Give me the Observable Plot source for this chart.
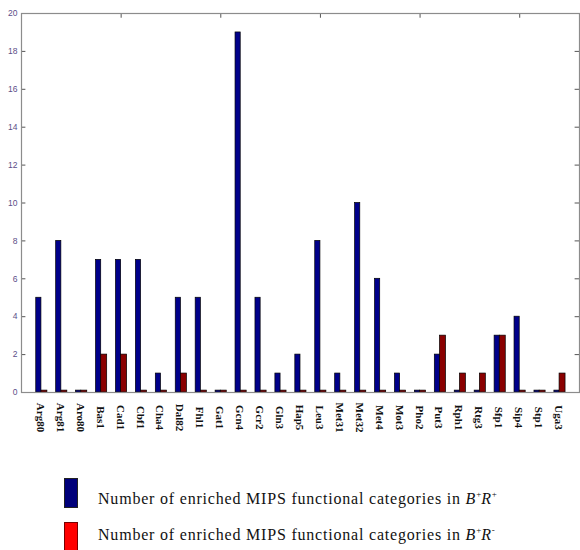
<!DOCTYPE html>
<html><head><meta charset="utf-8">
<script src="https://cdn.jsdelivr.net/npm/d3@7"></script>
<script src="https://cdn.jsdelivr.net/npm/@observablehq/plot@0.6"></script>
<style>
body{margin:0;background:#fff;width:580px;height:550px;overflow:hidden;position:relative;}
#chart{position:absolute;left:0;top:0;}
.leg{position:absolute;left:0;width:580px;height:30px;}
.sw{position:absolute;left:64px;width:12px;height:28px;border:1px solid #222;box-sizing:content-box;}
.lt{position:absolute;left:98px;font-family:"Liberation Serif","Times New Roman",serif;font-size:16px;letter-spacing:0.8px;color:#111;white-space:nowrap;line-height:16px;}
.lt sup{font-size:9px;vertical-align:7px;line-height:0;letter-spacing:0;}
</style>
</head><body>
<div id="chart"></div>
<div class="leg" style="top:478px"><div class="sw" style="top:0;background:#00007a"></div><div class="lt" style="top:13px">Number of enriched MIPS functional categories in <i>B</i><sup>+</sup><i>R</i><sup>+</sup></div></div>
<div class="leg" style="top:522px"><div class="sw" style="top:0;background:#ff0000;border-color:#700"></div><div class="lt" style="top:5px">Number of enriched MIPS functional categories in <i>B</i><sup>+</sup><i>R</i><sup>-</sup></div></div>
<script>
const categories = ["Arg80","Arg81","Aro80","Bas1","Cad1","Cbf1","Cha4","Dal82","Fhl1","Gat1","Gcn4","Gcr2","Gln3","Hap5","Leu3","Met31","Met32","Met4","Mot3","Pho2","Put3","Rph1","Rtg3","Sfp1","Sip4","Stp1","Uga3"];
const seriesPlusPlus = [5,8,0.1,7,7,7,1,5,5,0.1,19,5,1,2,8,1,10,6,1,0.1,2,0.1,0.1,3,4,0.1,0.1];
const seriesPlusMinus = [0.1,0.1,0.1,2,2,0.1,0.1,1,0.1,0.1,0.1,0.1,0.1,0.1,0.1,0.1,0.1,0.1,0.1,0.1,3,1,1,3,0.1,0.1,1];
const yTicks = [0,2,4,6,8,10,12,14,16,18,20];
const topTicks = [5,10,15,20,25];

const rows = categories.map((c,i)=>({cat:c, idx:i+1, a:seriesPlusPlus[i], b:seriesPlusMinus[i]}));

const plot = Plot.plot({
  width:580, height:450,
  marginLeft:21, marginRight:1, marginTop:13, marginBottom:58,
  x:{domain:[0,28], axis:null},
  y:{domain:[0,20], axis:null},
  marks:[
    Plot.rectY(rows,{x1:d=>d.idx-0.26, x2:d=>d.idx, y1:()=>0, y2:"a", fill:"#00008a", stroke:"#000", strokeWidth:0.7}),
    Plot.rectY(rows,{x1:d=>d.idx, x2:d=>d.idx+0.3, y1:()=>0, y2:"b", fill:"#8a0000", stroke:"#000", strokeWidth:0.7}),
    Plot.ruleY(yTicks,{y:d=>d, x1:()=>0, x2:()=>0.22, stroke:"#555", strokeWidth:1}),
    Plot.ruleY(yTicks,{y:d=>d, x1:()=>27.78, x2:()=>28, stroke:"#555", strokeWidth:1}),
    Plot.ruleX(topTicks,{x:d=>d, y1:()=>20, y2:()=>19.75, stroke:"#555", strokeWidth:1}),
    Plot.frame({stroke:"#8c8c8c", strokeWidth:1.2}),
    Plot.text(yTicks,{x:()=>0, y:d=>d, text:d=>String(d), textAnchor:"end", dx:-4, fontSize:8.5, fontFamily:"Liberation Sans, Arial, sans-serif", fill:"#5c4e88"}),
    Plot.text(rows,{x:"idx", y:()=>0, text:"cat", rotate:90, textAnchor:"middle", dy:25, dx:-1, fontSize:11, fontWeight:"bold", fontFamily:"Liberation Serif, Times New Roman, serif", fill:"#111"})
  ]
});
document.getElementById("chart").appendChild(plot);
</script>
</body></html>
